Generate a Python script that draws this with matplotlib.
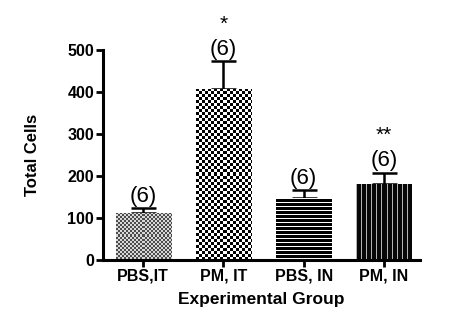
import numpy as np
import matplotlib.pyplot as plt

plt.rcParams['font.family'] = ['Liberation Sans', 'DejaVu Sans']

# Data
groups = ['PBS,IT', 'PM, IT', 'PBS, IN', 'PM, IN']
means = [112, 408, 147, 180]
errors = [12, 65, 20, 28]
n_labels = ['(6)', '(6)', '(6)', '(6)']
stars = ['', '*', '', '**']
patterns = ['fine_checker', 'checker', 'hstripe', 'vstripe']


def make_pattern(kind, nrows, ncols):
    r = np.arange(nrows)[:, None]
    c = np.arange(ncols)[None, :]
    img = np.ones((nrows, ncols, 3))
    if kind == 'fine_checker':
        mask = ((r // 2 + c // 2) % 2 == 0)
        img[:] = 0.85
        img[mask] = 0.30
    elif kind == 'checker':
        mask = ((r // 3 + c // 3) % 2 == 0)
        img[mask] = 0.0
    elif kind == 'hstripe':
        mask = np.broadcast_to((r % 4) != 0, (nrows, ncols))
        img[mask] = 0.0
    elif kind == 'vstripe':
        mask = np.broadcast_to((c % 5) != 0, (nrows, ncols))
        img[mask] = 0.03
        img[~mask] = 0.7
    return img


fig = plt.figure(figsize=(4.73, 3.29), dpi=100)
ax = fig.add_axes([0.218, 0.21, 0.67, 0.638])
x = np.arange(len(groups))
width = 0.69
xmin, xmax = -0.5, 3.45
ymax = 500

bars = ax.bar(x, means, width, color='none', edgecolor='none', zorder=2)
ax.set_xlim(xmin, xmax)
ax.set_ylim(0, ymax)

px_x = ax.bbox.width / (xmax - xmin)
px_y = ax.bbox.height / ymax

for bar, kind, h in zip(bars, patterns, means):
    ncols = max(int(round(width * px_x)), 1)
    nrows = max(int(round(h * px_y)), 1)
    img = make_pattern(kind, nrows, ncols)
    x0 = bar.get_x()
    im = ax.imshow(img, extent=(x0, x0 + width, 0, h), origin='upper',
                   aspect='auto', interpolation='nearest', zorder=2)
    im.set_clip_path(bar)

ax.errorbar(x, means, yerr=[np.zeros(len(errors)), errors], fmt='none',
            ecolor='black', elinewidth=1.8, capsize=9, capthick=1.8, zorder=1)

for xi, m, e, lab, st in zip(x, means, errors, n_labels, stars):
    top = m + e
    ax.text(xi, top + 3, lab, ha='center', va='bottom', fontsize=16, zorder=4)
    if st:
        ax.text(xi, top + 88, st, ha='center', va='center', fontsize=15, zorder=4)

ax.set_xlim(xmin, xmax)
ax.set_ylim(0, ymax)
ax.set_yticks([0, 100, 200, 300, 400, 500])
ax.set_xticks(x)
ax.set_xticklabels(groups)
ax.spines['top'].set_visible(False)
ax.spines['right'].set_visible(False)
for s in ['left', 'bottom']:
    ax.spines[s].set_linewidth(2.2)
ax.tick_params(axis='both', direction='out', length=5, width=2, labelsize=11.5, pad=1.5)
for lab in ax.get_xticklabels() + ax.get_yticklabels():
    lab.set_fontweight('bold')

ax.set_ylabel('Total Cells', fontsize=12, fontweight='bold', labelpad=20)
ax.set_xlabel('Experimental Group', fontsize=12.5, fontweight='bold', labelpad=6)

fig.savefig('out.png', dpi=100)
